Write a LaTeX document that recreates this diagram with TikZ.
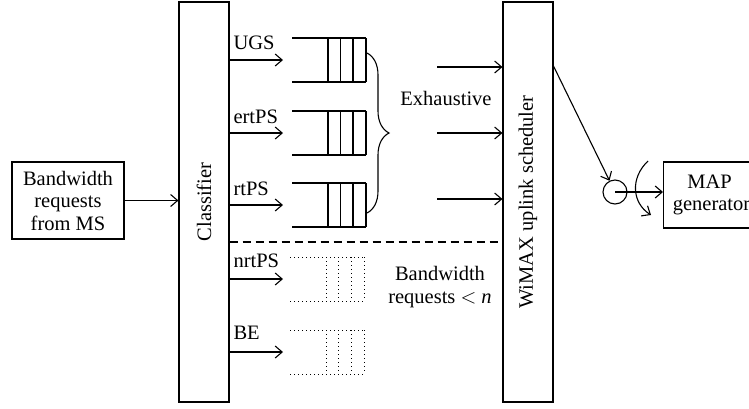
\documentclass[tikz,border=0pt]{standalone}
\usepackage{fontspec}
\setmainfont{Liberation Serif}
\usetikzlibrary{arrows.meta, positioning, decorations.pathreplacing}

\tikzset{
    queue/.pic={
        \draw (0,-22) -- (74,-22) (0,22) -- (74,22);
        \draw (36,-22) -- (36,22) (48.5,-22) -- (48.5,22) (61,-22) -- (61,22) (74,-22) -- (74,22);
    }
}

\begin{document}
\begin{tikzpicture}[
    x=1pt, y=-1pt, line width=1.1pt,
    font=\fontsize{20.5}{22.5}\selectfont,
    box/.style={rectangle, draw, inner sep=0pt, align=center},
    bar/.style={rectangle, draw, minimum width=50pt, minimum height=400pt, inner sep=0pt},
    tag/.style={anchor=west, inner sep=0pt},
    arrow/.style={-{Straight Barb[length=7pt, width=12pt]}},
    faded/.style={dash pattern=on 1pt off 3pt, line width=0.9pt}
]
    \useasboundingbox (0,0) rectangle (749,408);

    % blocks
    \node[box, minimum width=112pt, minimum height=77pt] (req) at (68,200.5) {Bandwidth\\requests\\from MS};
    \node[bar] (cls) at (204,202) {\rotatebox{90}{Classifier}};
    \node[bar] (sch) at (528,202) {\rotatebox{90}{WiMAX uplink scheduler}};
    \draw[arrow] (req) -- (req -| cls.west);

    % queues with guaranteed service
    \coordinate (qugs) at (292,60);
    \coordinate (qert) at (292,133);
    \coordinate (qrt) at (292,205);
    \pic at (qugs) {queue};
    \pic at (qert) {queue};
    \pic at (qrt) {queue};
    \draw[arrow] (qugs -| cls.east) -- ([xshift=-9pt]qugs);
    \draw[arrow] (qert -| cls.east) -- ([xshift=-9pt]qert);
    \draw[arrow] (qrt -| cls.east) -- ([xshift=-9pt]qrt);
    \node[tag] (lugs) at (233,43) {UGS};
    \node[tag] (lert) at (233,117) {ertPS};
    \node[tag] (lrt) at (233,189) {rtPS};

    \draw[decorate, decoration={brace, amplitude=22pt}] (367,53) -- (367,213);
    \node (exh) at (446,98) {Exhaustive};
    \coordinate (s1) at (437,67);
    \coordinate (s2) at (437,133);
    \coordinate (s3) at (437,199);
    \draw[arrow] (s1) -- (s1 -| sch.west);
    \draw[arrow] (s2) -- (s2 -| sch.west);
    \draw[arrow] (s3) -- (s3 -| sch.west);

    \draw[dash pattern=on 8pt off 5pt] (cls.east |- 0,242) -- (sch.west |- 0,242);

    % queues served on request
    \coordinate (qnrt) at (290,279);
    \coordinate (qbe) at (290,352);
    \pic[faded] at (qnrt) {queue};
    \pic[faded] at (qbe) {queue};
    \draw[arrow] (qnrt -| cls.east) -- ([xshift=-7pt]qnrt);
    \draw[arrow] (qbe -| cls.east) -- ([xshift=-7pt]qbe);
    \node[tag] (lnrt) at (233,261) {nrtPS};
    \node[tag] (lbe) at (233,333) {BE};
    \node[align=center] (lim) at (440,287) {Bandwidth\\requests $<$ \textit{n}};

    % output side
    \node[circle, draw, minimum size=24pt, inner sep=0pt] (sw) at (615,192) {};
    \node[box, anchor=west, minimum width=96pt, minimum height=66pt] (map) at (663,195) {\hspace*{-4pt}MAP\\generator\hspace*{0pt}};
    \coordinate (out) at (553,65);
    \draw[arrow] (out) -- (sw);
    \draw[arrow] (sw.center) -- (map.west |- sw);
    \draw[arrow] (648,161) .. controls (630,178) and (632,203) .. (651,215);
\end{tikzpicture}
\end{document}
